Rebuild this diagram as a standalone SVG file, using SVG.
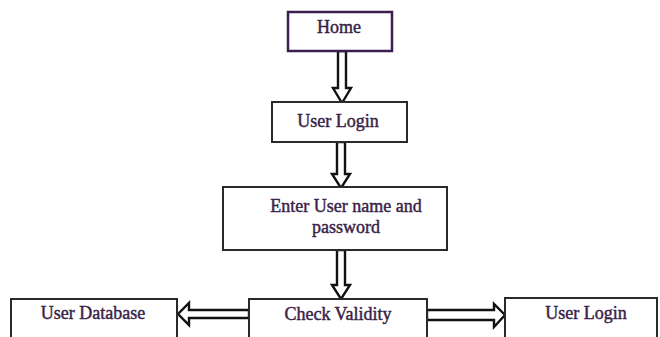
<svg xmlns="http://www.w3.org/2000/svg" width="660" height="337" viewBox="0 0 660 337">
  <style>
    .box { fill: #ffffff; stroke: #2a2a2a; stroke-width: 2; }
    .home { fill: #ffffff; stroke: #3b1d4f; stroke-width: 2.5; }
    .label { font-family: "Liberation Serif", "Times New Roman", serif; font-size: 18px; fill: #3a1f48; stroke: #3a1f48; stroke-width: 0.45; text-anchor: middle; }
    .arrow { fill: #ffffff; stroke: #111111; stroke-width: 2.4; stroke-linejoin: miter; }
  </style>
  <rect width="660" height="337" fill="#ffffff"/>

  <g id="connectors">
    <!-- Home -> User Login -->
    <path class="arrow" d="M338,51 L346,51 L346,88 L351,88 L342,103 L333,88 L338,88 Z"/>
    <!-- User Login -> Enter credentials -->
    <path class="arrow" d="M337,142 L345,142 L345,174 L350,174 L341,188 L332,174 L337,174 Z"/>
    <!-- Enter credentials -> Check Validity -->
    <path class="arrow" d="M337,250 L345,250 L345,285 L350,285 L341,299 L332,285 L337,285 Z"/>
    <!-- Check Validity -> User Database -->
    <path class="arrow" d="M249,310 L189,310 L189,303 L178,314 L189,325 L189,318 L249,318 Z"/>
    <!-- Check Validity -> User Login -->
    <path class="arrow" d="M427,310 L494,310 L494,304 L505,315 L494,327 L494,320 L427,320 Z"/>
  </g>

  <g id="home">
    <rect class="home" x="288" y="12" width="104" height="39"/>
    <text class="label" x="339" y="33">Home</text>
  </g>

  <g id="user-login">
    <rect class="box" x="272" y="102" width="135" height="40"/>
    <text class="label" x="338" y="127">User Login</text>
  </g>

  <g id="enter-credentials">
    <rect class="box" x="223" y="187" width="224" height="63"/>
    <text class="label" x="346" y="212">Enter User name and</text>
    <text class="label" x="346" y="233">password</text>
  </g>

  <g id="check-validity">
    <rect class="box" x="249" y="299" width="178" height="50"/>
    <text class="label" x="338" y="320">Check Validity</text>
  </g>

  <g id="user-database">
    <rect class="box" x="11" y="299" width="166" height="50"/>
    <text class="label" x="93" y="319">User Database</text>
  </g>

  <g id="user-login-result">
    <rect class="box" x="505" y="298" width="152" height="50"/>
    <text class="label" x="586" y="319">User Login</text>
  </g>
</svg>
